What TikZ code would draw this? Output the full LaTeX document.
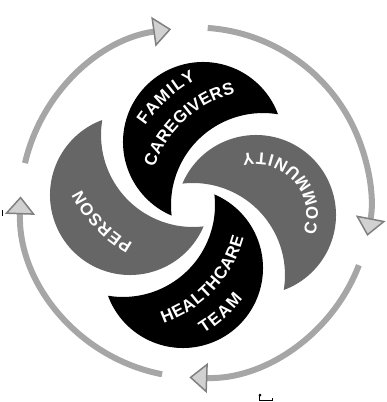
\documentclass[tikz,border=0pt]{standalone}
\usepackage{fontspec}
\newfontfamily\bladefont{Liberation Sans}
\usetikzlibrary{arrows.meta,decorations.text}

\colorlet{bladegray}{black!60}
\colorlet{ringgray}{black!35}
\newcommand{\bladelabel}{\bladefont\bfseries\fontsize{17}{17}\selectfont}

\tikzset{
  bladetext/.style={decorate, decoration={text along path, text={|\bladelabel|#1},
    text color=white, text align=fit to path}},
  ringarrow/.style={draw=ringgray, line width=6pt,
    -{Triangle[width=30pt,length=18pt,line width=1.5pt,color=black!50,fill=black!18]}}
}

\begin{document}
\begin{tikzpicture}[x=1pt,y=1pt]
\useasboundingbox (-193,-197) rectangle (193,205);

% the four blades, a quarter turn apart
\foreach \ang/\col in {0/black,-90/bladegray,-180/black,-270/bladegray}{
  \begin{scope}[rotate=\ang]
    \fill[\col] ([shift={(20.3:80pt)}]10,63) arc[start angle=20.3, end angle=246.9, radius=80pt]
      arc[start angle=186.6, end angle=80.6, radius=92pt] -- cycle;
  \end{scope}
}

\coordinate (famcut) at (70,0);
\coordinate (percut) at (0,70);
\coordinate (heacut) at (-70,0);
\coordinate (comdisc) at (63,-10);
\coordinate (ring) at (2.5,2.5);

\path[bladetext=FAMILY] ([shift={(146:142pt)}]famcut) arc[start angle=146, end angle=118, radius=142pt];
\path[bladetext=CAREGIVERS] ([shift={(161:115pt)}]famcut) arc[start angle=161, end angle=104, radius=115pt];
\path[bladetext=COMMUNITY] ([shift={(-19:62pt)}]comdisc) arc[start angle=-19, end angle=103, radius=62pt];
\path[bladetext=HEALTHCARE] ([shift={(-71:125pt)}]heacut) arc[start angle=-71, end angle=-15, radius=125pt];
\path[bladetext=TEAM] ([shift={(-58:152pt)}]heacut) arc[start angle=-58, end angle=-38, radius=152pt];
\path[bladetext=PERSON] ([shift={(241:124pt)}]percut) arc[start angle=241, end angle=206, radius=124pt];

% outer ring of arrows
\foreach \from/\to in {167/98,86/-11,-21/-92,-101/-182}
  \draw[ringarrow] ([shift={(\from:175pt)}]ring) arc[start angle=\from, end angle=\to, radius=175pt];

% small marks
\draw[line width=1pt] (-190,-5)--(-190,-11);
\fill (67,-190) circle (1.5pt);
\draw[line width=1pt] (67,-190)--(67,-195)--(80,-195)--(80,-193);

\end{tikzpicture}
\end{document}
